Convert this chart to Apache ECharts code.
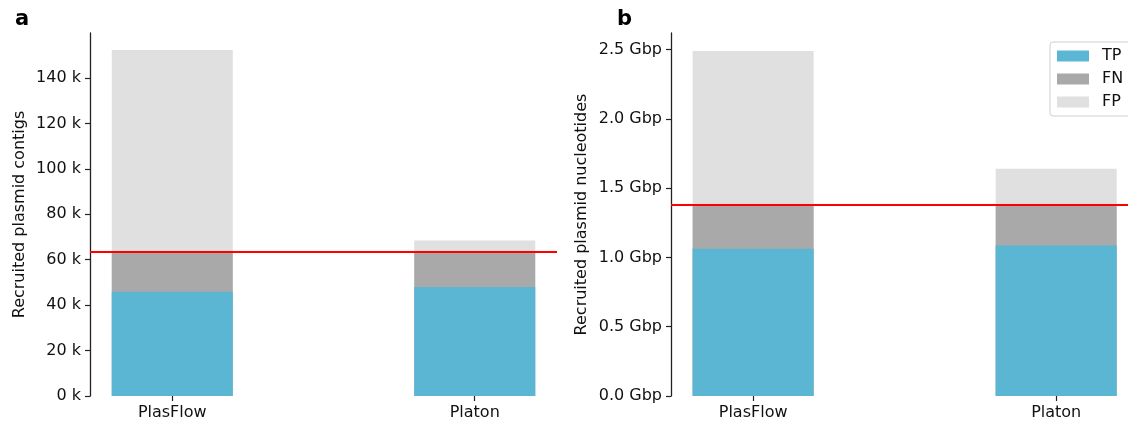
<!DOCTYPE html>
<html>
<head>
<meta charset="utf-8">
<script src="https://cdn.jsdelivr.net/npm/echarts@6/dist/echarts.min.js"></script>
<style>
html,body{margin:0;padding:0;background:#fff;}
#chart{width:1128px;height:423px;}
</style>
</head>
<body>
<div id="chart"></div>
<script>
const categories = ['PlasFlow', 'Platon'];
const seriesNames = ['TP', 'FN', 'FP'];

// Panel a: recruited plasmid contigs
const contigsTP = [45900, 48000];
const contigsFN = [17400, 15300];
const contigsFP = [89000, 5100];
const contigsTruth = 63300;
const contigTicks = [0, 20000, 40000, 60000, 80000, 100000, 120000, 140000];

// Panel b: recruited plasmid nucleotides (Gbp)
const nucTP = [1.062, 1.086];
const nucFN = [0.318, 0.294];
const nucFP = [1.110, 0.260];
const nucTruth = 1.38;
const nucTicks = [0, 0.5, 1.0, 1.5, 2.0, 2.5];

const colors = { TP: '#5bb6d3', FN: '#a9a9a9', FP: '#e0e0e0' };
const FONT = 'DejaVu Sans';
const catIdx = categories.map((c, i) => i);

// cumulative tops so the bars can be overlaid (tallest drawn first)
function cumulative(parts) {
  return parts[0].map((_, i) => parts.reduce((s, arr) => s + arr[i], 0));
}
function toPairs(arr) { return arr.map((v, i) => [catIdx[i], v]); }

function barSeries(name, tops, axisIndex, truth) {
  const s = {
    name: name,
    type: 'bar',
    xAxisIndex: axisIndex,
    yAxisIndex: axisIndex,
    barWidth: 121,
    barGap: '-100%',
    itemStyle: { color: colors[name] },
    data: toPairs(tops),
    emphasis: { disabled: true }
  };
  if (truth !== undefined) {
    s.markLine = {
      silent: true,
      symbol: ['none', 'none'],
      label: { show: false },
      lineStyle: { color: '#ff0000', width: 2, type: 'solid' },
      data: [{ yAxis: truth }],
      z: 10
    };
  }
  return s;
}

function xAxisDef(gridIndex, min, max) {
  return {
    type: 'value',
    gridIndex: gridIndex,
    min: min,
    max: max,
    axisLine: { show: false, onZero: false },
    splitLine: { show: false },
    axisTick: { show: true, customValues: catIdx, length: 5, lineStyle: { color: '#222', width: 1.2 } },
    axisLabel: {
      customValues: catIdx,
      formatter: v => categories[Math.round(v)] || '',
      color: '#111', fontFamily: FONT, fontSize: 16, margin: 9
    }
  };
}

function yAxisDef(gridIndex, max, ticks, fmt, name, nameGap) {
  return {
    type: 'value',
    gridIndex: gridIndex,
    min: 0,
    max: max,
    name: name,
    nameLocation: 'middle',
    nameGap: nameGap,
    nameTextStyle: { color: '#111', fontFamily: FONT, fontSize: 16 },
    axisLine: { show: true, onZero: false, lineStyle: { color: '#222', width: 1.3 } },
    splitLine: { show: false },
    axisTick: { show: true, customValues: ticks, length: 5, lineStyle: { color: '#222', width: 1.2 } },
    axisLabel: { customValues: ticks, formatter: fmt, color: '#111', fontFamily: FONT, fontSize: 16, margin: 9 }
  };
}

const cA = {
  TP: contigsTP,
  FN: cumulative([contigsTP, contigsFN]),
  FP: cumulative([contigsTP, contigsFN, contigsFP])
};
const cB = {
  TP: nucTP,
  FN: cumulative([nucTP, nucFN]),
  FP: cumulative([nucTP, nucFN, nucFP])
};

const chart = echarts.init(document.getElementById('chart'), null, { renderer: 'canvas' });
chart.setOption({
  animation: false,
  backgroundColor: '#fff',
  title: [
    { text: 'a', left: 10, top: 4, textStyle: { fontFamily: FONT, fontSize: 21, fontWeight: 'bold', color: '#000' } },
    { text: 'b', left: 612, top: 4, textStyle: { fontFamily: FONT, fontSize: 21, fontWeight: 'bold', color: '#000' } }
  ],
  legend: {
    orient: 'vertical',
    left: 1050,
    top: 42,
    data: seriesNames,
    icon: 'rect',
    itemWidth: 32,
    itemHeight: 11,
    itemGap: 7,
    padding: [6, 8, 6, 7],
    borderColor: '#d0d0d0',
    borderWidth: 1,
    borderRadius: 3,
    backgroundColor: '#fff',
    selectedMode: false,
    textStyle: { fontFamily: FONT, fontSize: 16, color: '#111', padding: [0, 0, 0, 8] }
  },
  grid: [
    { left: 90, right: 571, top: 33, bottom: 27 },
    { left: 671, right: 0, top: 33, bottom: 27 }
  ],
  xAxis: [
    xAxisDef(0, -0.272, 1.272),
    xAxisDef(1, -0.271, 1.237)
  ],
  yAxis: [
    yAxisDef(0, 159800, contigTicks, v => (v / 1000) + ' k', 'Recruited plasmid contigs', 62),
    yAxisDef(1, 2.62, nucTicks, v => v.toFixed(1) + ' Gbp', 'Recruited plasmid nucleotides', 81)
  ],
  series: [
    barSeries('FP', cA.FP, 0, contigsTruth),
    barSeries('FN', cA.FN, 0),
    barSeries('TP', cA.TP, 0),
    barSeries('FP', cB.FP, 1, nucTruth),
    barSeries('FN', cB.FN, 1),
    barSeries('TP', cB.TP, 1)
  ]
});
</script>
</body>
</html>
